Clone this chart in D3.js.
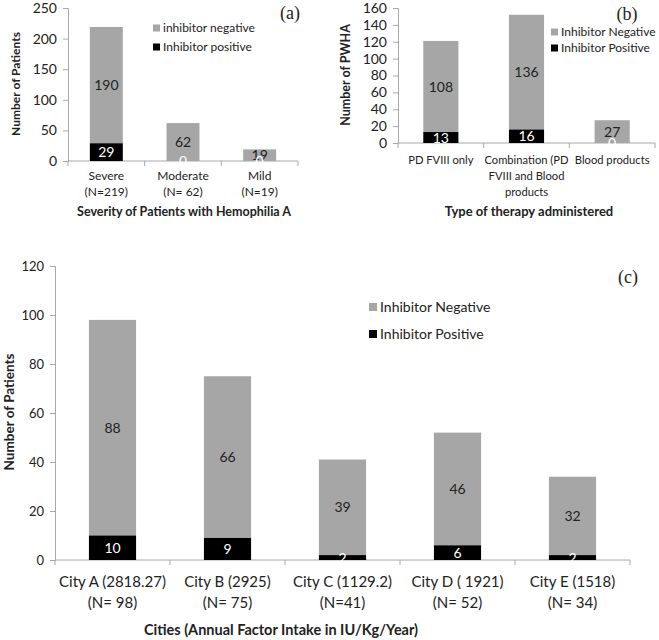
<!DOCTYPE html>
<html>
<head>
<meta charset="utf-8">
<script src="https://cdn.jsdelivr.net/npm/d3@7"></script>
<style>
  body { margin: 0; background: #fff; }
  svg { display: block; }
  text { font-family: Lato, "Open Sans", sans-serif; fill: #222; }
</style>
</head>
<body>
<svg id="chart" width="659" height="640"></svg>
<script>
// ---------- DATA ----------
const seriesNames = ["Inhibitor Positive", "Inhibitor Negative"];

// Panel (a)
const catsA = [["Severe", "(N=219)"], ["Moderate", "(N= 62)"], ["Mild", "(N=19)"]];
const posA = [29, 0, 0];
const negA = [190, 62, 19];
const ticksA = [0, 50, 100, 150, 200, 250];
const legendA = ["inhibitor negative", "Inhibitor positive"];

// Panel (b)
const catsB = [["PD FVIII only"], ["Combination (PD", "FVIII and Blood", "products"], ["Blood products"]];
const posB = [13, 16, 0];
const negB = [108, 136, 27];
const ticksB = [0, 20, 40, 60, 80, 100, 120, 140, 160];
const legendB = ["Inhibitor Negative", "Inhibitor Positive"];

// Panel (c)
const catsC = [["City A (2818.27)", "(N= 98)"], ["City B (2925)", "(N= 75)"], ["City C (1129.2)", "(N=41)"], ["City D ( 1921)", "(N= 52)"], ["City E (1518)", "(N= 34)"]];
const posC = [10, 9, 2, 6, 2];
const negC = [88, 66, 39, 46, 32];
const ticksC = [0, 20, 40, 60, 80, 100, 120];
const legendC = ["Inhibitor Negative", "Inhibitor Positive"];

// ---------- DRAW ----------
const GRAY = "#a6a6a6", BLACK = "#000000", AXIS = "#a8a8a8";
const svg = d3.select("#chart");

function panel(cfg) {
  const g = svg.append("g");
  const x = d3.scaleBand().domain(cfg.cats.map((c, i) => i)).range([cfg.left, cfg.right]).padding(0);
  const y = d3.scaleLinear().domain([0, cfg.max]).range([cfg.bottom, cfg.top]);
  const bw = x.bandwidth() * cfg.barFrac;

  // y axis
  const ya = g.append("g").attr("transform", `translate(${cfg.left},0)`)
    .call(d3.axisLeft(y).tickValues(cfg.ticks).tickSize(5).tickPadding(cfg.tickPad));
  ya.select(".domain").attr("stroke", AXIS);
  ya.selectAll(".tick line").attr("stroke", AXIS);
  ya.selectAll(".tick text").style("font-size", cfg.tickFont + "px").attr("fill", "#222")
    .style("font-family", "Lato, sans-serif");

  // x axis (line + ticks at boundaries)
  const xa = g.append("g").attr("transform", `translate(0,${cfg.bottom})`);
  xa.append("line").attr("x1", cfg.left).attr("x2", cfg.right).attr("stroke", AXIS);
  const bounds = d3.range(cfg.cats.length + 1).map(i => cfg.left + i * x.step());
  xa.selectAll("line.tk").data(bounds).join("line").attr("class", "tk")
    .attr("x1", d => d).attr("x2", d => d).attr("y1", 0).attr("y2", 5).attr("stroke", AXIS);

  // bars
  const data = cfg.cats.map((c, i) => ({ i, pos: cfg.pos[i], neg: cfg.neg[i] }));
  const bg = g.append("g");
  bg.selectAll("rect.neg").data(data).join("rect").attr("class", "neg")
    .attr("x", d => x(d.i) + (x.bandwidth() - bw) / 2).attr("width", bw)
    .attr("y", d => y(d.pos + d.neg)).attr("height", d => y(d.pos) - y(d.pos + d.neg))
    .attr("fill", GRAY);
  bg.selectAll("rect.pos").data(data).join("rect").attr("class", "pos")
    .attr("x", d => x(d.i) + (x.bandwidth() - bw) / 2).attr("width", bw)
    .attr("y", d => y(d.pos)).attr("height", d => y(0) - y(d.pos))
    .attr("fill", BLACK);

  // data labels
  bg.selectAll("text.nl").data(data).join("text").attr("class", "nl")
    .attr("x", d => x(d.i) + x.bandwidth() / 2)
    .attr("y", d => y(d.pos + d.neg / 2)).attr("dy", "0.36em")
    .attr("text-anchor", "middle").style("font-size", cfg.valFont + "px")
    .text(d => d.neg);
  bg.selectAll("text.pl").data(data).join("text").attr("class", "pl")
    .attr("x", d => x(d.i) + x.bandwidth() / 2)
    .attr("y", d => y(d.pos / 2)).attr("dy", "0.36em")
    .attr("text-anchor", "middle").style("font-size", cfg.valFont + "px")
    .style("fill", "#fff")
    .text(d => d.pos);

  // category labels
  const cl = g.append("g");
  cfg.cats.forEach((lines, i) => {
    const t = cl.append("text").attr("text-anchor", "middle")
      .attr("x", x(i) + x.bandwidth() / 2).attr("y", cfg.catY)
      .style("font-size", cfg.catFont + "px");
    lines.forEach((ln, k) => t.append("tspan").attr("x", x(i) + x.bandwidth() / 2)
      .attr("dy", k === 0 ? 0 : cfg.catLH).text(ln));
  });

  // axis titles
  g.append("text").attr("text-anchor", "middle")
    .attr("transform", `translate(${cfg.yTitleX},${cfg.yTitleY}) rotate(-90)`)
    .style("font-size", cfg.yTitleFont + "px").style("font-weight", "bold")
    .text(cfg.yTitle);
  g.append("text").attr("text-anchor", "middle")
    .attr("x", cfg.xTitleX).attr("y", cfg.xTitleY)
    .style("font-size", cfg.xTitleFont + "px").style("font-weight", "bold")
    .text(cfg.xTitle);

  // legend
  const lg = g.append("g");
  const cols = [GRAY, BLACK];
  cfg.legend.forEach((name, k) => {
    const yy = cfg.legY + k * cfg.legGap;
    lg.append("rect").attr("x", cfg.legX).attr("y", yy - cfg.legSq / 2)
      .attr("width", cfg.legSq).attr("height", cfg.legSq).attr("fill", cols[k]);
    lg.append("text").attr("x", cfg.legX + cfg.legSq + 3).attr("y", yy).attr("dy", "0.35em")
      .style("font-size", cfg.legFont + "px").text(name);
  });

  // panel letter
  g.append("text").attr("x", cfg.letterX).attr("y", cfg.letterY)
    .attr("text-anchor", "middle")
    .style("font-family", "'Liberation Serif', 'DejaVu Serif', serif")
    .style("font-size", "18px").text(cfg.letter);
}

panel({
  cats: catsA, pos: posA, neg: negA, ticks: ticksA, max: 250,
  left: 68, right: 298, top: 8, bottom: 161, barFrac: 0.43,
  tickFont: 14, tickPad: 6, valFont: 14, catFont: 12, catY: 180, catLH: 16,
  yTitleFont: 12, xTitleFont: 12.5, yTitle: "Number of Patients", yTitleX: 20, yTitleY: 84,
  xTitle: "Severity of Patients with Hemophilia A", xTitleX: 184, xTitleY: 216,
  legend: legendA, legX: 153, legY: 28, legGap: 19, legSq: 7, legFont: 12,
  letter: "(a)", letterX: 290, letterY: 19
});

panel({
  cats: catsB, pos: posB, neg: negB, ticks: ticksB, max: 160,
  left: 398, right: 655, top: 8, bottom: 143, barFrac: 0.41,
  tickFont: 14, tickPad: 6, valFont: 14, catFont: 11.2, catY: 164, catLH: 16,
  yTitleFont: 12.5, xTitleFont: 13, yTitle: "Number of PWHA", yTitleX: 350, yTitleY: 75,
  xTitle: "Type of therapy administered", xTitleX: 529, xTitleY: 216,
  legend: legendB, legX: 551, legY: 32, legGap: 16, legSq: 7, legFont: 12,
  letter: "(b)", letterX: 627, letterY: 20
});

panel({
  cats: catsC, pos: posC, neg: negC, ticks: ticksC, max: 120,
  left: 55, right: 630, top: 266, bottom: 560, barFrac: 0.41,
  tickFont: 13, tickPad: 6, valFont: 14, catFont: 15, catY: 587, catLH: 21,
  yTitleFont: 13.5, xTitleFont: 14.5, yTitle: "Number of Patients", yTitleX: 14, yTitleY: 412,
  xTitle: "Cities (Annual Factor Intake in IU/Kg/Year)", xTitleX: 281, xTitleY: 635,
  legend: legendC, legX: 369, legY: 307, legGap: 27, legSq: 8, legFont: 14,
  letter: "(c)", letterX: 628, letterY: 283
});
</script>
</body>
</html>
